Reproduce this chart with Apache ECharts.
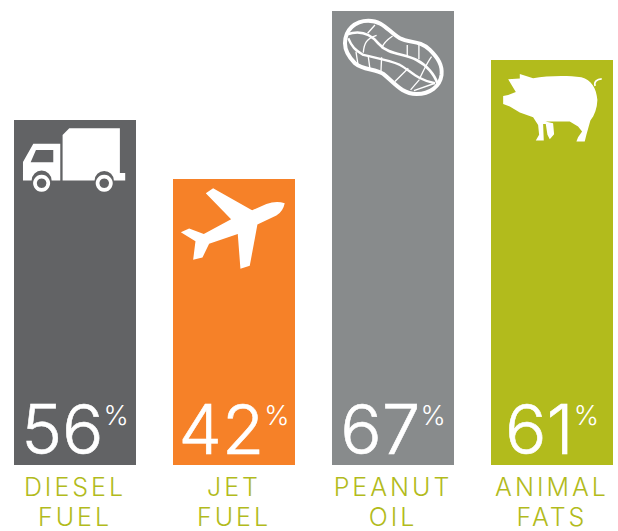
<!DOCTYPE html>
<html><head><meta charset="utf-8">
<style>
html,body{margin:0;padding:0;background:#fff}
#c{width:618px;height:531px}
#c text[fill="#b2bb1c"]{letter-spacing:3px}
</style>
<script src="https://cdn.jsdelivr.net/npm/echarts@6/dist/echarts.min.js"></script>
</head><body><div id="c"></div>
<script>
const categories = ['DIESEL\nFUEL', 'JET\nFUEL', 'PEANUT\nOIL', 'ANIMAL\nFATS'];
const percents = [56, 42, 67, 61];
// Drawn heights: the source bars are not proportional to their percentages.
const barHeights = [345, 286, 454, 405];
const barColors = ['#626365', '#f68128', '#888b8c', '#b2bb1c'];

// Icons authored at 3x, with the origin offset of each.
const truck = {ox: 225, oy: 30, parts: [
  {d: 'M188,75 L208,55 L360,55 L360,189 L376,189 L376,212 L342,212 A29,29 0 0 0 284,212 L188,212 Z', fill: 1},
  {d: 'M69,156 L100,101 L181,101 L181,212 L155,212 A30,30 0 0 0 95,212 L69,212 Z M108,120 L92,157 L160,157 L160,120 Z', fill: 1},
  {d: 'M125,200 A20,20 0 1 1 124.9,200 Z', w: 11},
  {d: 'M313,200 A20,20 0 1 1 312.9,200 Z', w: 11}
]};
const plane = {ox: 702, oy: 207, parts: [
  {d: 'M855,280 Q830,272 800,282 L757,301 L640,235 L618,250 L694,328 L612,372 L568,356 L543,367 L587,394 L580,450 L608,443 L628,402 L714,372 L722,477 L750,468 L773,344 L830,317 Q850,305 855,280 Z', fill: 1}
]};
const peanut = {ox: 219, oy: 33, parts: [
  {d: 'M75,130 C75,90 105,62 145,62 C190,62 205,95 240,115 C270,130 300,120 330,150 C355,175 368,195 365,225 C360,260 330,282 290,282 C245,282 225,250 190,222 C165,205 130,212 105,190 C85,170 75,150 75,130 Z', w: 12},
  {d: 'M82,103 C120,90 150,100 175,130 C205,165 250,160 290,180 C320,195 345,225 352,250', w: 8},
  {d: 'M85,115 C95,140 105,150 130,165 C170,175 205,180 240,195 C270,210 290,240 345,250', w: 7},
  {d: 'M143,100 L165,75 M130,158 C132,130 140,115 170,106 M108,155 L115,200 M145,170 L150,207 M185,172 L183,216 M185,145 C190,130 200,120 218,108 M262,135 L262,168 M297,135 L297,178 M335,170 C320,190 310,215 298,238 M265,205 L225,245 M298,240 L272,270 M345,250 L282,272', w: 4}
]};
const pig = {ox: 696, oy: 180, parts: [
  {d: 'M550,288 L565,285 L588,276 L565,238 L600,236 L600,222 L640,235 C680,228 740,226 785,232 C815,240 830,265 833,300 C832,325 825,345 812,362 L800,405 L795,425 L770,425 L775,412 L787,395 L775,380 L750,365 L677,365 L700,370 L703,403 L690,418 L683,405 L678,372 L670,372 L672,422 L648,422 L658,405 L655,375 L640,352 L600,338 L570,320 L550,312 Z', fill: 1},
  {d: 'M826,258 C822,245 832,238 846,237', w: 5}
]};
const icons = [truck, plane, peanut, pig];

function renderIcon(params, api) {
  const top = api.coord([api.value(0), api.value(1)]);
  const icon = icons[params.dataIndex];
  return {
    type: 'group',
    x: top[0] - icon.ox / 3,
    y: top[1] - icon.oy / 3,
    scaleX: 1 / 3,
    scaleY: 1 / 3,
    children: icon.parts.map(p => ({
      type: 'path',
      shape: {pathData: p.d, layout: 'none'},
      style: p.fill ? {fill: '#fff'} : {fill: 'none', stroke: '#fff', lineWidth: p.w}
    }))
  };
}

const chart = echarts.init(document.getElementById('c'), null, {renderer: 'svg'});
chart.setOption({
  animation: false,
  grid: {left: -4.5, top: 11, width: 636, height: 454, outerBoundsMode: 'none'},
  xAxis: {
    type: 'category', data: categories,
    axisLine: {show: false}, axisTick: {show: false},
    axisLabel: {
      interval: 0, margin: 7, color: '#b2bb1c', fontFamily: 'Inter', fontWeight: 300,
      fontSize: 25, lineHeight: 30, align: 'center'
    }
  },
  yAxis: {type: 'value', min: 0, max: 454, show: false},
  series: [
    {
      type: 'bar', barWidth: 122,
      data: barHeights.map((v, i) => ({
        value: v,
        itemStyle: {color: barColors[i]},
        label: {formatter: '{n|' + percents[i] + '}{p|%}'}
      })),
      label: {
        show: true, position: 'insideBottom', distance: 2,
        rich: {
          n: {fontFamily: 'Inter', fontWeight: 300, fontSize: 69, lineHeight: 68, color: '#fff', textBorderColor: '#fff', textBorderWidth: 0.6},
          p: {fontFamily: 'Inter', fontWeight: 300, fontSize: 27, lineHeight: 30, padding: [7, 0, 0, 0], color: '#fff', verticalAlign: 'top'}
        }
      }
    },
    {
      type: 'custom', renderItem: renderIcon, silent: true, z: 5,
      data: barHeights.map((v, i) => [i, v]),
      encode: {x: 0, y: 1}
    }
  ]
});
</script></body></html>
